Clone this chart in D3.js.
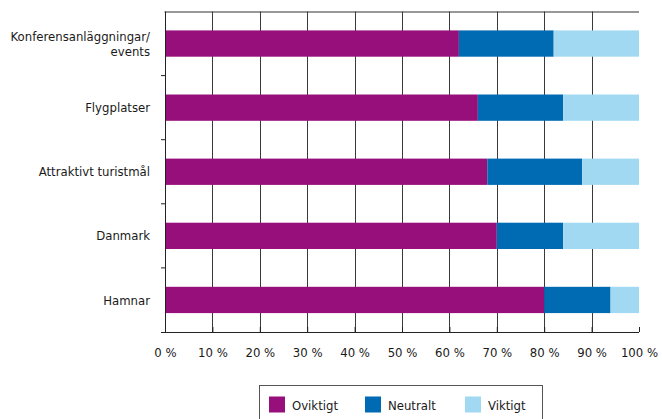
<!DOCTYPE html>
<html>
<head>
<meta charset="utf-8">
<script src="https://cdn.jsdelivr.net/npm/d3@7"></script>
<style>
  body { margin: 0; background: #fff; }
  svg { display: block; }
  text { font-family: "DejaVu Sans Condensed", "Liberation Sans Narrow", "Liberation Sans", sans-serif; fill: #1a1a1a; }
</style>
</head>
<body>
<svg id="chart" width="662" height="419"></svg>
<script>
// Categories (top to bottom) and each answer's share in percent
const categories = [["Konferensanläggningar/", "events"], ["Flygplatser"], ["Attraktivt turistmål"], ["Danmark"], ["Hamnar"]];
const oviktigt = [62, 66, 68, 70, 80];
const neutralt = [20, 18, 20, 14, 14];
const viktigt  = [18, 16, 12, 16, 6];
const seriesNames = ["Oviktigt", "Neutralt", "Viktigt"];
const seriesColors = ["#970f7a", "#006ab2", "#a2d9f2"];
const tickValues = [0, 10, 20, 30, 40, 50, 60, 70, 80, 90, 100];

const FONT = 13;
const svg = d3.select("#chart");
const margin = { left: 165, right: 23, top: 11.5, bottom: 87 };
const W = 662, H = 419;
const plotW = W - margin.left - margin.right;
const plotH = H - margin.top - margin.bottom;

const rows = categories.map((c, i) => ({
  key: c.join(" "), label: c,
  Oviktigt: oviktigt[i], Neutralt: neutralt[i], Viktigt: viktigt[i]
}));

const x = d3.scaleLinear().domain([0, 100]).range([0, plotW]);
const y = d3.scaleBand().domain(rows.map(r => r.key)).range([0, plotH]).paddingInner(0.59).paddingOuter(0.295);

const g = svg.append("g").attr("transform", `translate(${margin.left},${margin.top})`);

// Top frame line
g.append("line").attr("x1", -0.5).attr("x2", x(100)).attr("y1", 0.5).attr("y2", 0.5)
  .attr("stroke", "#333").attr("stroke-width", 1);

// Vertical gridlines at 10 % .. 90 %
g.append("g").selectAll("line").data(tickValues.filter(v => v > 0 && v < 100)).join("line")
  .attr("x1", d => Math.round(x(d)) + 0.5).attr("x2", d => Math.round(x(d)) + 0.5)
  .attr("y1", 0).attr("y2", plotH)
  .attr("stroke", "#3a3a3a").attr("stroke-width", 1);

// Stacked bars
const stack = d3.stack().keys(seriesNames);
const layers = stack(rows);
g.append("g").selectAll("g").data(layers).join("g")
  .attr("fill", (d, i) => seriesColors[i])
  .selectAll("rect").data(d => d).join("rect")
  .attr("x", d => x(d[0]))
  .attr("width", d => x(d[1]) - x(d[0]))
  .attr("y", d => y(d.data.key))
  .attr("height", y.bandwidth());

// Bottom axis
const xAxis = d3.axisBottom(x).tickValues(tickValues).tickFormat(d => d + " %").tickSize(5).tickSizeOuter(0);
const xg = g.append("g").attr("transform", `translate(0,${plotH})`).call(xAxis);
xg.select(".domain").attr("stroke", "#222").attr("d", `M-4,0.5H${x(100)}`);
xg.selectAll(".tick line").attr("stroke", "#222").attr("y1", -5).attr("y2", 0);
xg.selectAll(".tick text").attr("y", 16).attr("font-size", FONT).attr("fill", "#1a1a1a")
  .style("font-family", "'DejaVu Sans Condensed', 'Liberation Sans Narrow', sans-serif");

// Left axis line with ticks between categories
g.append("line").attr("x1", 0.5).attr("x2", 0.5).attr("y1", 0).attr("y2", plotH).attr("stroke", "#222");
const step = y.step();
const bounds = d3.range(1, rows.length).map(i => y(rows[i].key) - (step - y.bandwidth()) / 2);
g.append("g").selectAll("line").data(bounds).join("line")
  .attr("x1", -4).attr("x2", 0).attr("y1", d => d).attr("y2", d => d)
  .attr("stroke", "#222");

// Category labels
const lab = g.append("g").selectAll("text").data(rows).join("text")
  .attr("text-anchor", "end").attr("font-size", FONT)
  .attr("x", -15)
  .attr("y", d => y(d.key) + y.bandwidth() / 2);
lab.each(function(d) {
  const t = d3.select(this);
  const n = d.label.length;
  d.label.forEach((line, i) => {
    t.append("tspan").attr("x", -15)
      .attr("dy", i === 0 ? ((-(n - 1) / 2) * 1.15 + 0.35) + "em" : "1.15em")
      .text(line);
  });
});

// Legend
const leg = svg.append("g").attr("transform", "translate(259.5,385.5)");
leg.append("rect").attr("width", 283).attr("height", 40).attr("fill", "#fff").attr("stroke", "#555");
const itemX = [9.5, 105.5, 205.5];
const items = leg.selectAll("g").data(seriesNames).join("g")
  .attr("transform", (d, i) => `translate(${itemX[i]},11)`);
items.append("rect").attr("width", 16).attr("height", 16).attr("fill", (d, i) => seriesColors[i]);
items.append("text").attr("x", 23).attr("y", 13).attr("font-size", FONT).text(d => d);
</script>
</body>
</html>
